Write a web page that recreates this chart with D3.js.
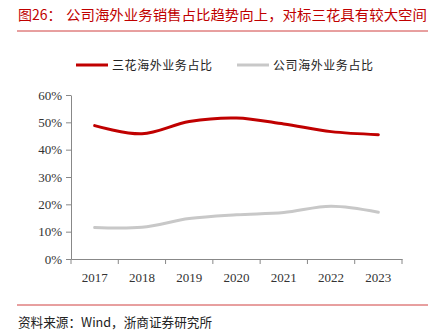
<!DOCTYPE html>
<html><head><meta charset="utf-8">
<script src="https://cdn.jsdelivr.net/npm/d3@7"></script>
<style>body{margin:0;background:#fff}svg{display:block}</style>
</head><body>
<script>
const years = ["2017","2018","2019","2020","2021","2022","2023"];
const sanhua = [48.8, 45.8, 50.3, 51.6, 49.4, 46.6, 45.5];
const company = [11.5, 11.6, 14.8, 16.2, 17.0, 19.3, 17.1];
const yTicks = [0, 10, 20, 30, 40, 50, 60];
const seriesNames = ["三花海外业务占比", "公司海外业务占比"];
const colors = ["#c00000", "#c8c8c8"];

const W = 431, H = 332;
const svg = d3.select("body").append("svg").attr("width", W).attr("height", H);
const cjk = "'Noto Sans CJK SC', sans-serif";
const serif = "'Liberation Serif', 'DejaVu Serif', serif";

// title
const title = svg.append("text").attr("x", 18).attr("y", 20)
  .attr("fill", "#c00000").attr("font-size", 14).attr("font-family", cjk);
title.append("tspan").text("图26：");
title.append("tspan").attr("x", 66).text("公司海外业务销售占比趋势向上，对标三花具有较大空间")
  .attr("textLength", 361).attr("lengthAdjust", "spacingAndGlyphs");
svg.append("line").attr("x1", 17).attr("x2", 428).attr("y1", 31).attr("y2", 31)
  .attr("stroke", "#d04040").attr("stroke-width", 1);

// scales
const x = d3.scaleBand().domain(years).range([71, 402]);
const y = d3.scaleLinear().domain([0, 60]).range([259, 95]);

// y axis
const yAxis = svg.append("g").attr("transform", "translate(71,0)")
  .call(d3.axisLeft(y).tickValues(yTicks).tickSize(5).tickSizeOuter(0).tickFormat(d => d + "%"));
yAxis.select(".domain").attr("stroke", "#888");
yAxis.selectAll(".tick line").attr("stroke", "#888");
yAxis.selectAll(".tick text").attr("font-family", serif).attr("font-size", 13).attr("fill", "#333").attr("x", -9);

// x axis
const xAxis = svg.append("g").attr("transform", "translate(0,259)")
  .call(d3.axisBottom(x).tickSize(0).tickSizeOuter(0));
xAxis.select(".domain").attr("stroke", "#888");
xAxis.selectAll(".tick text").attr("font-family", serif).attr("font-size", 13).attr("fill", "#333").attr("dy", "1.5em");
const bounds = years.map(d => x(d)).concat([x(years[years.length-1]) + x.bandwidth()]);
svg.append("g").selectAll("line").data(bounds).join("line")
  .attr("x1", d => d).attr("x2", d => d).attr("y1", 259).attr("y2", 264)
  .attr("stroke", "#888");

// lines
const line = d3.line().x((d, i) => x(years[i]) + x.bandwidth() / 2).y(d => y(d))
  .curve(d3.curveCatmullRom.alpha(0.5));
[company, sanhua].forEach((s, k) => {
  svg.append("path").datum(s).attr("d", line).attr("fill", "none")
    .attr("stroke", k === 0 ? colors[1] : colors[0]).attr("stroke-width", 3)
    .attr("stroke-linecap", "round");
});

// legend
const leg = [{x: 76, tx: 112}, {x: 237, tx: 273}];
seriesNames.forEach((n, i) => {
  svg.append("line").attr("x1", leg[i].x).attr("x2", leg[i].x + 32).attr("y1", 65).attr("y2", 65)
    .attr("stroke", colors[i]).attr("stroke-width", 3);
  svg.append("text").attr("x", leg[i].tx).attr("y", 70).text(n)
    .attr("font-family", cjk).attr("font-size", 12).attr("fill", "#222")
    .attr("textLength", 100).attr("lengthAdjust", "spacing");
});

// footer
svg.append("line").attr("x1", 17).attr("x2", 428).attr("y1", 305).attr("y2", 305)
  .attr("stroke", "#d04040").attr("stroke-width", 1);
svg.append("text").attr("x", 18).attr("y", 327).text("资料来源：Wind，浙商证券研究所")
  .attr("font-family", cjk).attr("font-size", 13).attr("fill", "#222")
  .attr("textLength", 194).attr("lengthAdjust", "spacingAndGlyphs");
</script>
</body></html>
